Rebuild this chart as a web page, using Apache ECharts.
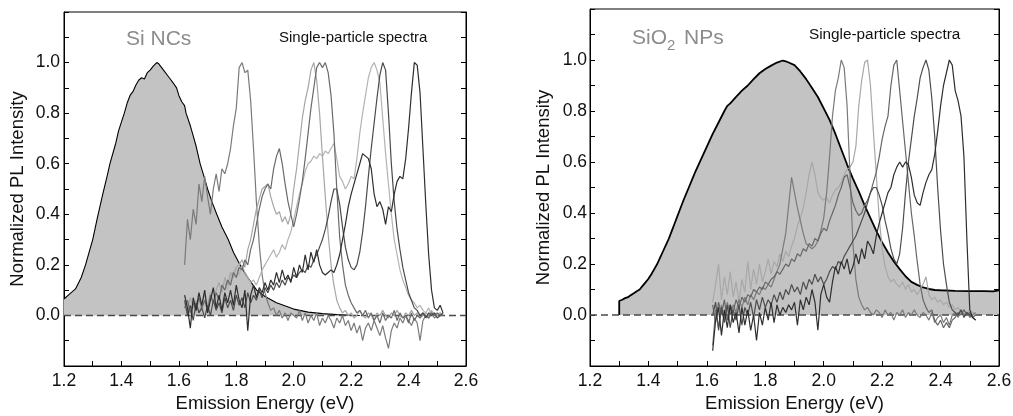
<!DOCTYPE html>
<html>
<head>
<meta charset="utf-8">
<script src="https://cdn.jsdelivr.net/npm/echarts@6.0.0/dist/echarts.min.js"></script>
<style>
html,body{margin:0;padding:0;background:#fff;}
#c{width:1013px;height:416px;}
</style>
</head>
<body>
<div id="c"></div>
<script>
// ---- Data ----
const xTicks = [1.2, 1.4, 1.6, 1.8, 2.0, 2.2, 2.4, 2.6];
const yTicks = [0.0, 0.2, 0.4, 0.6, 0.8, 1.0];

// shared energy grid for single-particle spectra (eV)
const E = [1.62,1.63,1.64,1.65,1.66,1.67,1.68,1.69,1.70,1.71,
  1.72,1.73,1.74,1.75,1.76,1.77,1.78,1.79,1.80,1.81,
  1.82,1.83,1.84,1.85,1.86,1.87,1.88,1.89,1.90,1.91,
  1.92,1.93,1.94,1.95,1.96,1.97,1.98,1.99,2.00,2.01,
  2.02,2.03,2.04,2.05,2.06,2.07,2.08,2.09,2.10,2.11,
  2.12,2.13,2.14,2.15,2.16,2.17,2.18,2.19,2.20,2.21,
  2.22,2.23,2.24,2.25,2.26,2.27,2.28,2.29,2.30,2.31,
  2.32,2.33,2.34,2.35,2.36,2.37,2.38,2.39,2.40,2.41,
  2.42,2.43,2.44,2.45,2.46,2.47,2.48,2.49,2.50,2.51,
  2.52];

// Left panel: Si NCs ensemble spectrum [eV, intensity]
const siEnsemble = [[1.20,0.065],[1.22,0.085],[1.24,0.105],[1.26,0.15],[1.275,0.20],[1.29,0.26],[1.30,0.30],[1.315,0.38],[1.335,0.48],[1.35,0.55],[1.36,0.60],[1.38,0.68],[1.39,0.73],[1.41,0.80],[1.42,0.84],[1.43,0.87],[1.44,0.885],[1.45,0.91],[1.46,0.93],[1.47,0.94],[1.48,0.935],[1.49,0.96],[1.50,0.97],[1.51,0.985],[1.523,1.00],[1.53,0.995],[1.54,0.98],[1.55,0.965],[1.56,0.95],[1.57,0.935],[1.58,0.92],[1.592,0.90],[1.60,0.87],[1.61,0.845],[1.62,0.83],[1.625,0.80],[1.64,0.75],[1.65,0.71],[1.66,0.67],[1.674,0.60],[1.69,0.54],[1.70,0.50],[1.715,0.45],[1.732,0.40],[1.75,0.35],[1.772,0.30],[1.79,0.25],[1.813,0.20],[1.84,0.15],[1.871,0.10],[1.90,0.075],[1.94,0.05],[2.00,0.025],[2.05,0.013],[2.10,0.007],[2.15,0.003],[2.20,0.001],[2.23,0.0]];

// Left panel single-particle spectra (values on grid E)
const siSP1 = [0.20,0.38,0.30,0.42,0.36,0.52,0.45,0.55,0.47,0.40,
  0.50,0.56,0.49,0.58,0.56,0.60,0.66,0.75,0.82,0.98,
  1.00,0.96,0.97,0.85,0.66,0.45,0.28,0.16,0.09,0.05,
  0.02,0.03,0.00,0.02,-0.01,0.01,-0.02,0.01,0.00,-0.01,
  0.02,-0.02,0.01,-0.03,0.00,-0.02,0.01,-0.04,-0.01,-0.03,
  0.00,-0.02,-0.05,-0.01,-0.03,0.00,-0.04,-0.02,-0.06,-0.03,
  -0.07,-0.04,-0.10,-0.05,-0.03,-0.06,-0.02,-0.05,-0.08,-0.04,
  -0.09,-0.13,-0.06,-0.03,-0.05,-0.01,-0.03,0.00,-0.02,-0.04,
  -0.01,-0.03,-0.10,-0.02,0.00,-0.01,0.01,-0.01,0.00,0.01,
  0.00];
const siSP2 = [0.05,0.02,0.07,0.03,0.06,0.01,0.05,0.08,0.04,0.09,
  0.06,0.10,0.13,0.09,0.15,0.12,0.17,0.15,0.19,0.20,
  0.22,0.19,0.26,0.30,0.36,0.42,0.46,0.50,0.51,0.52,
  0.47,0.43,0.40,0.41,0.37,0.39,0.36,0.40,0.50,0.58,
  0.68,0.78,0.85,0.90,0.97,1.00,0.93,0.80,0.63,0.47,
  0.32,0.20,0.12,0.06,0.03,0.01,0.02,0.00,0.01,-0.01,
  0.00,0.02,0.00,-0.01,0.01,0.00,-0.02,0.01,0.00,0.02,
  0.00,-0.01,0.01,0.00,0.02,0.00,-0.01,0.01,0.00,0.02,
  0.00,0.01,-0.01,0.00,0.01,0.00,0.02,0.00,0.01,0.00,
  0.01];
const siSP3 = [0.03,0.06,0.01,0.05,0.02,0.07,0.03,0.06,0.02,0.08,
  0.05,0.09,0.06,0.12,0.10,0.14,0.12,0.17,0.15,0.19,
  0.18,0.22,0.20,0.26,0.30,0.36,0.42,0.47,0.50,0.52,
  0.50,0.58,0.63,0.66,0.60,0.52,0.45,0.40,0.35,0.40,
  0.46,0.53,0.62,0.72,0.82,0.90,0.98,1.00,0.98,1.00,
  0.96,0.87,0.72,0.50,0.31,0.20,0.12,0.08,0.05,0.03,
  0.01,0.02,0.00,0.02,-0.01,0.01,-0.02,0.00,-0.03,0.01,
  -0.02,0.00,-0.01,0.02,-0.02,0.01,-0.01,0.00,-0.03,0.01,
  -0.02,0.00,-0.01,0.01,0.00,-0.01,0.01,0.00,0.01,0.00,
  0.00];
const siSP4 = [0.02,0.05,0.00,0.04,0.01,0.06,0.02,0.05,0.03,0.08,
  0.05,0.09,0.07,0.11,0.13,0.10,0.15,0.17,0.19,0.16,
  0.20,0.17,0.15,0.13,0.14,0.12,0.15,0.18,0.20,0.22,
  0.24,0.26,0.23,0.25,0.28,0.26,0.30,0.33,0.38,0.43,
  0.48,0.52,0.57,0.60,0.61,0.63,0.62,0.64,0.63,0.65,
  0.64,0.66,0.68,0.62,0.55,0.53,0.50,0.52,0.55,0.54,
  0.62,0.72,0.80,0.87,0.94,0.98,1.00,0.97,0.92,0.78,
  0.64,0.52,0.40,0.30,0.24,0.18,0.14,0.11,0.08,0.06,
  0.05,0.03,0.04,0.02,0.01,0.03,0.00,0.01,0.00,0.01,
  0.00];
const siSP5 = [0.06,0.00,0.04,-0.02,0.05,0.01,0.03,-0.01,0.04,0.00,
  0.06,0.02,0.05,0.01,0.07,0.03,0.06,0.02,0.08,0.04,
  0.07,0.03,0.09,0.05,0.08,0.06,0.10,0.07,0.11,0.09,
  0.12,0.10,0.13,0.11,0.14,0.12,0.15,0.14,0.16,0.15,
  0.17,0.18,0.17,0.20,0.19,0.22,0.24,0.27,0.30,0.34,
  0.39,0.45,0.50,0.50,0.44,0.35,0.27,0.22,0.19,0.18,
  0.20,0.25,0.33,0.43,0.55,0.66,0.76,0.86,0.95,1.00,
  0.97,0.80,0.60,0.45,0.34,0.26,0.19,0.14,0.09,0.06,
  0.03,0.02,0.00,0.01,-0.01,0.01,0.00,0.01,-0.01,0.00,
  0.01];
const siSP6 = [0.08,0.03,-0.05,0.07,0.02,0.09,0.04,0.10,0.01,0.06,
  0.11,0.03,0.08,0.02,0.09,0.05,0.10,0.04,0.12,0.06,
  0.03,0.10,-0.06,0.08,0.12,0.07,0.11,0.09,0.13,0.10,
  0.14,0.12,0.17,0.13,0.18,0.14,0.16,0.13,0.19,0.15,
  0.20,0.17,0.24,0.18,0.25,0.21,0.26,0.20,0.17,0.16,
  0.17,0.18,0.17,0.20,0.24,0.30,0.36,0.43,0.48,0.52,
  0.56,0.60,0.64,0.63,0.62,0.58,0.48,0.43,0.45,0.42,
  0.36,0.43,0.41,0.48,0.53,0.55,0.54,0.62,0.74,0.88,
  1.00,0.99,0.88,0.66,0.44,0.24,0.10,0.03,0.02,0.04,
  0.01];

// Right panel: SiO2 NPs ensemble spectrum [eV, intensity]
const sioEnsemble = [[1.30,0],[1.30,0.055],[1.31,0.06],[1.32,0.066],[1.33,0.07],[1.34,0.078],[1.35,0.085],[1.36,0.093],[1.37,0.10],[1.38,0.114],[1.39,0.128],[1.40,0.142],[1.41,0.16],[1.42,0.18],[1.43,0.20],[1.44,0.225],[1.45,0.25],[1.46,0.275],[1.47,0.30],[1.48,0.33],[1.49,0.36],[1.50,0.39],[1.52,0.45],[1.54,0.505],[1.56,0.56],[1.58,0.61],[1.60,0.66],[1.62,0.71],[1.64,0.755],[1.66,0.80],[1.67,0.82],[1.68,0.83],[1.70,0.855],[1.72,0.88],[1.74,0.90],[1.76,0.925],[1.78,0.948],[1.80,0.965],[1.82,0.978],[1.84,0.99],[1.86,0.998],[1.87,0.995],[1.88,0.99],[1.90,0.98],[1.92,0.955],[1.94,0.925],[1.96,0.89],[1.98,0.855],[2.00,0.81],[2.02,0.765],[2.04,0.71],[2.06,0.65],[2.08,0.59],[2.10,0.535],[2.12,0.485],[2.14,0.43],[2.16,0.38],[2.18,0.33],[2.20,0.285],[2.22,0.245],[2.24,0.21],[2.26,0.18],[2.28,0.152],[2.30,0.13],[2.32,0.118],[2.34,0.108],[2.36,0.102],[2.38,0.098],[2.40,0.097],[2.45,0.095],[2.50,0.094],[2.55,0.094],[2.58,0.093],[2.60,0.097]];

// Right panel single-particle spectra (values on grid E)
const sioSP1 = [-0.12,0.02,-0.05,0.04,-0.02,0.05,0.00,0.04,0.01,0.06,
  0.03,0.07,0.04,0.08,0.06,0.09,0.08,0.11,0.10,0.12,
  0.11,0.14,0.17,0.20,0.26,0.32,0.43,0.54,0.48,0.42,
  0.37,0.32,0.28,0.27,0.26,0.27,0.29,0.33,0.38,0.48,
  0.62,0.78,0.88,0.93,1.00,0.97,0.82,0.55,0.28,0.14,
  0.07,0.04,0.02,0.03,0.01,0.00,0.02,0.01,-0.01,0.02,
  0.00,0.01,-0.02,0.01,0.00,0.02,-0.01,0.01,0.00,0.02,
  0.00,-0.01,0.01,0.00,-0.02,0.01,-0.03,-0.01,0.00,-0.03,
  -0.01,-0.04,0.00,0.01,-0.01,0.02,0.00,0.01,-0.01,0.00,
  0.01];
const sioSP2 = [0.05,0.12,0.20,0.06,0.15,0.08,0.17,0.07,0.13,0.05,
  0.14,0.09,0.21,0.10,0.18,0.12,0.20,0.13,0.17,0.22,
  0.16,0.21,0.19,0.24,0.21,0.25,0.23,0.27,0.30,0.35,
  0.38,0.42,0.48,0.55,0.60,0.55,0.48,0.46,0.45,0.46,
  0.44,0.47,0.49,0.50,0.52,0.55,0.57,0.58,0.60,0.66,
  0.82,0.92,0.99,1.00,0.90,0.72,0.55,0.38,0.26,0.19,
  0.15,0.13,0.14,0.12,0.11,0.13,0.10,0.12,0.09,0.10,
  0.08,0.10,0.12,0.15,0.08,0.06,0.07,0.05,0.06,0.04,
  0.05,0.03,0.04,0.02,0.03,0.01,0.02,0.01,0.02,0.01,
  0.00];
const sioSP3 = [0.04,-0.03,0.05,0.00,0.06,-0.02,0.04,0.01,0.06,0.03,
  0.07,0.05,0.08,0.07,0.10,0.09,0.11,0.10,0.13,0.12,
  0.14,0.15,0.17,0.16,0.18,0.20,0.19,0.22,0.21,0.24,
  0.23,0.26,0.25,0.28,0.27,0.30,0.29,0.32,0.34,0.33,
  0.37,0.40,0.43,0.47,0.50,0.54,0.55,0.50,0.44,0.41,
  0.39,0.40,0.43,0.45,0.48,0.52,0.56,0.62,0.69,0.74,
  0.78,0.90,0.98,1.00,0.88,0.76,0.64,0.52,0.40,0.31,
  0.21,0.12,0.06,0.03,0.01,0.02,-0.02,-0.04,-0.02,-0.05,
  -0.03,-0.05,-0.02,-0.01,0.01,0.00,0.02,0.00,0.01,-0.01,
  0.00];
const sioSP4 = [0.00,0.05,-0.06,0.03,-0.03,0.04,-0.05,0.02,-0.02,0.04,
  -0.04,0.03,0.00,0.05,-0.01,0.06,0.02,0.07,0.03,0.06,
  0.04,0.08,0.05,0.09,0.06,0.10,0.08,0.12,0.09,0.11,
  0.08,0.13,0.10,0.14,0.12,0.16,0.13,0.15,0.12,0.14,
  0.17,0.19,0.18,0.21,0.20,0.23,0.25,0.27,0.29,0.31,
  0.34,0.37,0.40,0.44,0.48,0.50,0.50,0.47,0.43,0.37,
  0.32,0.26,0.22,0.20,0.24,0.34,0.48,0.60,0.69,0.78,
  0.85,0.93,0.97,1.00,0.96,0.85,0.70,0.50,0.33,0.20,
  0.12,0.05,0.02,0.01,0.00,0.02,-0.01,0.01,0.00,-0.01,
  -0.02];
const sioSP5 = [-0.14,-0.02,0.03,-0.08,0.02,-0.05,0.04,-0.03,0.01,-0.07,
  0.03,-0.04,0.02,-0.06,0.00,-0.10,0.01,-0.04,0.03,-0.02,
  0.05,-0.03,0.04,0.00,0.03,0.01,0.04,0.02,0.05,-0.04,
  0.06,0.02,0.07,0.04,0.10,0.05,-0.06,0.08,0.12,0.07,
  0.05,0.13,0.19,0.16,0.21,0.18,0.22,0.16,0.19,0.24,
  0.20,0.26,0.22,0.29,0.27,0.24,0.31,0.36,0.40,0.44,
  0.48,0.50,0.55,0.58,0.60,0.58,0.60,0.59,0.54,0.47,
  0.44,0.43,0.48,0.52,0.55,0.57,0.63,0.72,0.82,0.90,
  0.95,1.00,0.98,0.88,0.84,0.78,0.62,0.30,0.02,-0.01,
  -0.02];

// ---- Chart ----
const zip = ys => E.map((x, i) => [x, ys[i]]);
const FONT = 'Liberation Sans, Arial, Helvetica, sans-serif';
const FILL = '#c3c3c3';

function xFmt(v) {
  const k = Math.round(v * 10);
  return (k % 2 === 0) ? (k / 10).toFixed(1) : '';
}
function yFmt(v) {
  const k = Math.round(v * 10);
  if (k < 0 || k > 10 || k % 2 !== 0) return '';
  return (k / 10).toFixed(1);
}

function xAxisFor(g) {
  return {
    gridIndex: g, type: 'value', min: 1.2, max: 2.6, interval: 0.1,
    name: 'Emission Energy (eV)', nameLocation: 'middle', nameGap: 28,
    nameTextStyle: { fontSize: 18.5, color: '#111', fontFamily: FONT },
    axisLine: { show: true, onZero: false, lineStyle: { color: '#000', width: 1 } },
    axisTick: { show: true, inside: true, length: 5, lineStyle: { color: '#000', width: 1 } },
    axisLabel: { formatter: xFmt, fontSize: 17.5, color: '#111', margin: 6, fontFamily: FONT, showMinLabel: true, showMaxLabel: true },
    splitLine: { show: false }
  };
}
function yAxisFor(g, gap, lm) {
  return {
    gridIndex: g, type: 'value', min: -0.2, max: 1.2, interval: 0.1,
    name: 'Normalized PL Intensity', nameLocation: 'middle', nameGap: gap,
    nameTextStyle: { fontSize: 18.5, color: '#111', fontFamily: FONT },
    axisLine: { show: true, onZero: false, lineStyle: { color: '#000', width: 1 } },
    axisTick: { show: true, inside: true, length: 5, lineStyle: { color: '#000', width: 1 } },
    axisLabel: { formatter: yFmt, fontSize: 17.5, color: '#111', margin: lm, fontFamily: FONT },
    splitLine: { show: false }
  };
}
function yAxisRight(g) {
  return {
    gridIndex: g, type: 'value', min: -0.2, max: 1.2, interval: 0.1, position: 'right',
    axisLine: { show: true, onZero: false, lineStyle: { color: '#000', width: 1 } },
    axisTick: { show: true, inside: true, length: 5, lineStyle: { color: '#000', width: 1 } },
    axisLabel: { show: false },
    splitLine: { show: false }
  };
}

function line(name, data, xi, yi, color, width, z) {
  return {
    name, type: 'line', data, xAxisIndex: xi, yAxisIndex: yi,
    showSymbol: false, symbol: 'none', smooth: false, z: z || 3,
    lineStyle: { color, width }, emphasis: { disabled: true }, silent: true
  };
}
function area(name, data, xi, yi, width) {
  const s = line(name, data, xi, yi, '#000', width, 2);
  s.areaStyle = { color: FILL, opacity: 1, origin: 'auto' };
  return s;
}
function zeroLine(xi, yi) {
  const s = line('zero', [[1.2, 0], [2.6, 0]], xi, yi, '#4a4a4a', 1.4, 2.5);
  s.lineStyle.type = [7, 4];
  return s;
}

const chart = echarts.init(document.getElementById('c'), null, { renderer: 'canvas' });
chart.setOption({
  animation: false,
  backgroundColor: '#fff',
  textStyle: { fontFamily: FONT },
  grid: [
    { left: 64, top: 12, width: 402, height: 354, show: true, borderColor: '#000', borderWidth: 1, backgroundColor: 'transparent', containLabel: false, outerBoundsMode: 'none' },
    { left: 590, top: 9, width: 409, height: 357, show: true, borderColor: '#000', borderWidth: 1, backgroundColor: 'transparent', containLabel: false, outerBoundsMode: 'none' }
  ],
  xAxis: [xAxisFor(0), xAxisFor(1)],
  yAxis: [yAxisFor(0, 37, 4), yAxisFor(1, 37, 3), yAxisRight(0), yAxisRight(1)],
  series: [
    area('Si NCs ensemble', siEnsemble, 0, 0, 1.1),
    zeroLine(0, 0),
    line('sp1', zip(siSP1), 0, 0, '#7a7a7a', 1.2),
    line('sp4', zip(siSP4), 0, 0, '#b3b3b3', 1.2),
    line('sp2', zip(siSP2), 0, 0, '#a6a6a6', 1.2),
    line('sp3', zip(siSP3), 0, 0, '#6a6a6a', 1.2),
    line('sp5', zip(siSP5), 0, 0, '#4a4a4a', 1.2),
    line('sp6', zip(siSP6), 0, 0, '#2e2e2e', 1.2),

    area('SiO2 NPs ensemble', sioEnsemble, 1, 1, 1.8),
    zeroLine(1, 1),
    line('r2', zip(sioSP2), 1, 1, '#a8a8a8', 1.2),
    line('r1', zip(sioSP1), 1, 1, '#7a7a7a', 1.2),
    line('r3', zip(sioSP3), 1, 1, '#666666', 1.2),
    line('r4', zip(sioSP4), 1, 1, '#4d4d4d', 1.2),
    line('r5', zip(sioSP5), 1, 1, '#2e2e2e', 1.2)
  ],
  graphic: [
    { type: 'text', x: 126, y: 39, style: { text: 'Si NCs', font: '21px ' + FONT, fill: '#8c8c8c', verticalAlign: 'middle', align: 'left' } },
    { type: 'text', x: 279, y: 38, style: { text: 'Single-particle spectra', font: '15px ' + FONT, fill: '#111', verticalAlign: 'middle', align: 'left' } },
    { type: 'text', x: 632, y: 38, style: { text: 'SiO', font: '21px ' + FONT, fill: '#8c8c8c', verticalAlign: 'middle', align: 'left' } },
    { type: 'text', x: 667, y: 46, style: { text: '2', font: '15px ' + FONT, fill: '#8c8c8c', verticalAlign: 'middle', align: 'left' } },
    { type: 'text', x: 684, y: 38, style: { text: 'NPs', font: '21px ' + FONT, fill: '#8c8c8c', verticalAlign: 'middle', align: 'left' } },
    { type: 'text', x: 809, y: 35, style: { text: 'Single-particle spectra', font: '15.3px ' + FONT, fill: '#111', verticalAlign: 'middle', align: 'left' } }
  ]
});
</script>
</body>
</html>
